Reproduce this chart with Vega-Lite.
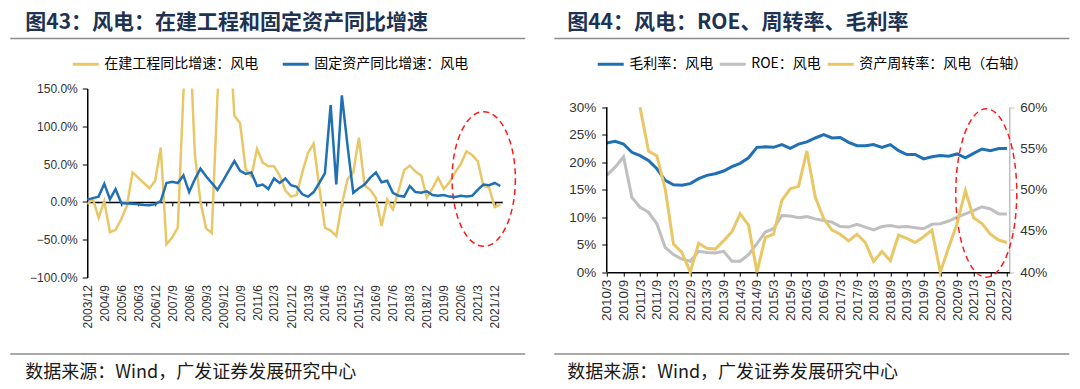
{
  "$schema": "https://vega.github.io/schema/vega-lite/v6.json",
  "background": "#ffffff",
  "padding": {"left": 9.25, "top": 11.5, "right": 0, "bottom": 0},
  "spacing": 26.5,
  "resolve": {"scale": {"color": "independent"}},
  "config": {
    "view": {"stroke": null},
    "axis": {"grid": false, "labelFont": "Liberation Sans", "labelColor": "#333333", "labelOverlap": false}
  },
  "hconcat": [
    {
      "width": 415,
      "height": 189,
      "data": {"values": [
        {"d":"2003-12-01","zj":-3,"gd":3},
        {"d":"2004-03-01","zj":4,"gd":5},
        {"d":"2004-06-01","zj":-21,"gd":7},
        {"d":"2004-09-01","zj":1,"gd":24},
        {"d":"2004-12-01","zj":-40,"gd":3.5},
        {"d":"2005-03-01","zj":-37,"gd":17},
        {"d":"2005-06-01","zj":-23,"gd":-1.5},
        {"d":"2005-09-01","zj":-5,"gd":-2},
        {"d":"2005-12-01","zj":39,"gd":-2.5},
        {"d":"2006-03-01","zj":32,"gd":-3},
        {"d":"2006-06-01","zj":25,"gd":-4},
        {"d":"2006-09-01","zj":18,"gd":-4.5},
        {"d":"2006-12-01","zj":28,"gd":-3},
        {"d":"2007-03-01","zj":72,"gd":1},
        {"d":"2007-06-01","zj":-56,"gd":25},
        {"d":"2007-09-01","zj":-47,"gd":26.5},
        {"d":"2007-12-01","zj":-34,"gd":25},
        {"d":"2008-03-01","zj":145,"gd":35},
        {"d":"2008-06-01","zj":240,"gd":13},
        {"d":"2008-09-01","zj":63,"gd":30},
        {"d":"2008-12-01","zj":0,"gd":44},
        {"d":"2009-03-01","zj":-35,"gd":34},
        {"d":"2009-06-01","zj":-41,"gd":25},
        {"d":"2009-09-01","zj":140,"gd":16},
        {"d":"2009-12-01","zj":245,"gd":28},
        {"d":"2010-03-01","zj":240,"gd":41},
        {"d":"2010-06-01","zj":114,"gd":54},
        {"d":"2010-09-01","zj":104,"gd":41},
        {"d":"2010-12-01","zj":43,"gd":37},
        {"d":"2011-03-01","zj":34,"gd":39},
        {"d":"2011-06-01","zj":70,"gd":21},
        {"d":"2011-09-01","zj":52,"gd":23},
        {"d":"2011-12-01","zj":47,"gd":17},
        {"d":"2012-03-01","zj":47,"gd":31},
        {"d":"2012-06-01","zj":35,"gd":25},
        {"d":"2012-09-01","zj":15,"gd":31},
        {"d":"2012-12-01","zj":7,"gd":22},
        {"d":"2013-03-01","zj":9,"gd":20},
        {"d":"2013-06-01","zj":39,"gd":10},
        {"d":"2013-09-01","zj":65,"gd":7},
        {"d":"2013-12-01","zj":77,"gd":13},
        {"d":"2014-03-01","zj":20,"gd":25},
        {"d":"2014-06-01","zj":-34,"gd":38},
        {"d":"2014-09-01","zj":-38,"gd":128},
        {"d":"2014-12-01","zj":-45,"gd":23},
        {"d":"2015-03-01","zj":-3,"gd":141},
        {"d":"2015-06-01","zj":30,"gd":74},
        {"d":"2015-09-01","zj":39,"gd":12},
        {"d":"2015-12-01","zj":85,"gd":18},
        {"d":"2016-03-01","zj":22,"gd":23},
        {"d":"2016-06-01","zj":16,"gd":32},
        {"d":"2016-09-01","zj":5,"gd":39},
        {"d":"2016-12-01","zj":-32,"gd":26},
        {"d":"2017-03-01","zj":3,"gd":28},
        {"d":"2017-06-01","zj":-10,"gd":12},
        {"d":"2017-09-01","zj":15,"gd":8},
        {"d":"2017-12-01","zj":42,"gd":7},
        {"d":"2018-03-01","zj":48,"gd":21},
        {"d":"2018-06-01","zj":40,"gd":13},
        {"d":"2018-09-01","zj":35,"gd":12},
        {"d":"2018-12-01","zj":6,"gd":14},
        {"d":"2019-03-01","zj":18,"gd":9},
        {"d":"2019-06-01","zj":32,"gd":8},
        {"d":"2019-09-01","zj":17,"gd":9},
        {"d":"2019-12-01","zj":26,"gd":7},
        {"d":"2020-03-01","zj":39,"gd":6.5},
        {"d":"2020-06-01","zj":50,"gd":8},
        {"d":"2020-09-01","zj":67,"gd":7},
        {"d":"2020-12-01","zj":62,"gd":8},
        {"d":"2021-03-01","zj":54,"gd":16},
        {"d":"2021-06-01","zj":21,"gd":23},
        {"d":"2021-09-01","zj":19,"gd":22},
        {"d":"2021-12-01","zj":-7,"gd":25},
        {"d":"2022-03-01","zj":-4,"gd":21}
      ]},
      "layer": [
        {
          "layer": [
            {
              "mark": {"type": "line", "clip": true, "strokeWidth": 2.5},
              "encoding": {
                "x": {"field": "d", "type": "temporal",
                  "scale": {"type": "utc", "domain": [{"year":2003,"month":12,"date":1,"utc":true},{"year":2022,"month":4,"date":1,"utc":true}]},
                  "axis": {"orient": "bottom", "tickCount": 100,
                    "values": [{"year":2003,"month":12,"utc":true},{"year":2004,"month":9,"utc":true},{"year":2005,"month":6,"utc":true},{"year":2006,"month":3,"utc":true},{"year":2006,"month":12,"utc":true},{"year":2007,"month":9,"utc":true},{"year":2008,"month":6,"utc":true},{"year":2009,"month":3,"utc":true},{"year":2009,"month":12,"utc":true},{"year":2010,"month":9,"utc":true},{"year":2011,"month":6,"utc":true},{"year":2012,"month":3,"utc":true},{"year":2012,"month":12,"utc":true},{"year":2013,"month":9,"utc":true},{"year":2014,"month":6,"utc":true},{"year":2015,"month":3,"utc":true},{"year":2015,"month":12,"utc":true},{"year":2016,"month":9,"utc":true},{"year":2017,"month":6,"utc":true},{"year":2018,"month":3,"utc":true},{"year":2018,"month":12,"utc":true},{"year":2019,"month":9,"utc":true},{"year":2020,"month":6,"utc":true},{"year":2021,"month":3,"utc":true},{"year":2021,"month":12,"utc":true}],
                    "labelExpr": "utcFormat(datum.value, '%Y/%-m')", "labelAngle": -90, "domain": false, "ticks": false, "tickSize": 0,
                    "labelPadding": 7, "labelFontSize": 12, "labelOverlap": false, "labelFlush": false, "labelBound": false, "title": null}},
                "y": {"field": "zj", "type": "quantitative", "title": null,
                  "scale": {"domain": [-100, 150], "nice": false},
                  "axis": {"orient": "left", "tickCount": 100, "values": [-100, -50, 0, 50, 100, 150], "labelExpr": "format(datum.value, '.1f') + '%'", "labelOverlap": false,
                    "domainColor": "#000000", "domainWidth": 1.5, "tickColor": "#000000", "tickSize": 5, "labelFontSize": 12, "labelPadding": 5, "title": null}},
                "color": {"datum": "在建工程同比增速：风电",
                  "scale": {"domain": ["在建工程同比增速：风电", "固定资产同比增速：风电"], "range": ["#E9C766", "#1F70B4"]},
                  "legend": {"orient": "none", "legendX": -16, "legendY": -39, "direction": "horizontal", "title": null, "padding": 0,
                    "symbolType": "stroke", "symbolSize": 676, "symbolStrokeWidth": 3, "labelOffset": 4, "columnPadding": 18,
                    "labelFont": "Noto Sans CJK SC", "labelFontSize": 14, "labelColor": "#000000", "labelLimit": 400}}
              }
            },
            {
              "data": {"values": [{}]},
              "mark": {"type": "rule", "stroke": "#8C8C8C", "strokeWidth": 1.5},
              "encoding": {
                "x": {"datum": {"year":2000,"month":7,"date":7,"utc":true}},
                "x2": {"datum": {"year":2023,"month":4,"date":7,"utc":true}},
                "y": {"datum": 216.1}
              }
            },
            {
              "data": {"values": [{}]},
              "mark": {"type": "rule", "stroke": "#8C8C8C", "strokeWidth": 1.5},
              "encoding": {
                "x": {"datum": {"year":2000,"month":7,"date":7,"utc":true}},
                "x2": {"datum": {"year":2023,"month":4,"date":7,"utc":true}},
                "y": {"datum": -201.2}
              }
            },
            {
              "data": {"values": [{}]},
              "mark": {"type": "text", "align": "left", "baseline": "middle", "font": "Noto Sans CJK SC", "fontSize": 21, "fontWeight": "bold", "color": "#1E3252"},
              "encoding": {
                "x": {"datum": {"year":2001,"month":3,"date":6,"utc":true}},
                "y": {"datum": 237.3},
                "text": {"value": "图43：风电：在建工程和固定资产同比增速"}
              }
            },
            {
              "data": {"values": [{}]},
              "mark": {"type": "text", "align": "left", "baseline": "middle", "font": "Noto Sans CJK SC", "fontSize": 18, "color": "#1a1a1a"},
              "encoding": {
                "x": {"datum": {"year":2001,"month":3,"date":6,"utc":true}},
                "y": {"datum": -225.7},
                "text": {"value": "数据来源：Wind，广发证券发展研究中心"}
              }
            },
            {
              "data": {"values": [{}]},
              "mark": {"type": "point", "shape": "M0.47,0C0.47,0.5523 0.2596,1 0,1C-0.2596,1 -0.47,0.5523 -0.47,0C-0.47,-0.5523 -0.2596,-1 0,-1C0.2596,-1 0.47,-0.5523 0.47,0Z",
                "size": 18144, "filled": false, "stroke": "#FF1A1A", "strokeWidth": 1.5, "strokeDash": [6, 4], "opacity": 1},
              "encoding": {
                "x": {"datum": {"year":2021,"month":6,"date":6,"utc":true}},
                "y": {"datum": 30.3}
              }
            }
          ]
        },
        {
          "mark": {"type": "line", "strokeWidth": 2.5},
          "encoding": {
            "x": {"field": "d", "type": "temporal",
              "axis": {"orient": "bottom", "offset": -75.6, "tickCount": 100,
                "values": [{"year":2003,"month":12,"utc":true},{"year":2004,"month":9,"utc":true},{"year":2005,"month":6,"utc":true},{"year":2006,"month":3,"utc":true},{"year":2006,"month":12,"utc":true},{"year":2007,"month":9,"utc":true},{"year":2008,"month":6,"utc":true},{"year":2009,"month":3,"utc":true},{"year":2009,"month":12,"utc":true},{"year":2010,"month":9,"utc":true},{"year":2011,"month":6,"utc":true},{"year":2012,"month":3,"utc":true},{"year":2012,"month":12,"utc":true},{"year":2013,"month":9,"utc":true},{"year":2014,"month":6,"utc":true},{"year":2015,"month":3,"utc":true},{"year":2015,"month":12,"utc":true},{"year":2016,"month":9,"utc":true},{"year":2017,"month":6,"utc":true},{"year":2018,"month":3,"utc":true},{"year":2018,"month":12,"utc":true},{"year":2019,"month":9,"utc":true},{"year":2020,"month":6,"utc":true},{"year":2021,"month":3,"utc":true},{"year":2021,"month":12,"utc":true}],
                "labels": false, "domainColor": "#000000", "domainWidth": 1.5, "tickColor": "#000000", "tickSize": 4, "tickWidth": 1, "title": null}},
            "y": {"field": "gd", "type": "quantitative", "title": null},
            "color": {"datum": "固定资产同比增速：风电"}
          }
        }
      ],
      "resolve": {"axis": {"x": "independent"}}
    },
    {
      "width": 403,
      "height": 183.7,
      "data": {"values": [
        {"d":"2010-03-01","gm":23.5,"roe":17.6},
        {"d":"2010-06-01","gm":23.8,"roe":19.1},
        {"d":"2010-09-01","gm":23.3,"roe":21.0},
        {"d":"2010-12-01","gm":21.8,"roe":13.6},
        {"d":"2011-03-01","gm":21.2,"roe":11.8,"at":60},
        {"d":"2011-06-01","gm":20.3,"roe":10.9,"at":54.7},
        {"d":"2011-09-01","gm":18.8,"roe":8.8,"at":54.1},
        {"d":"2011-12-01","gm":16.7,"roe":4.5,"at":50.1},
        {"d":"2012-03-01","gm":15.9,"roe":3.2,"at":43.4},
        {"d":"2012-06-01","gm":15.8,"roe":2.4,"at":42.4},
        {"d":"2012-09-01","gm":16.1,"roe":2.0,"at":40.0},
        {"d":"2012-12-01","gm":17.0,"roe":3.8,"at":43.5},
        {"d":"2013-03-01","gm":17.6,"roe":3.6,"at":42.9},
        {"d":"2013-06-01","gm":17.9,"roe":3.5,"at":42.8},
        {"d":"2013-09-01","gm":18.4,"roe":3.8,"at":43.8},
        {"d":"2013-12-01","gm":19.2,"roe":2.0,"at":44.9},
        {"d":"2014-03-01","gm":19.8,"roe":2.0,"at":47.1},
        {"d":"2014-06-01","gm":20.8,"roe":3.2,"at":45.7},
        {"d":"2014-09-01","gm":22.7,"roe":5.2,"at":40.0},
        {"d":"2014-12-01","gm":22.8,"roe":7.3,"at":44.2},
        {"d":"2015-03-01","gm":22.7,"roe":7.9,"at":44.6},
        {"d":"2015-06-01","gm":23.2,"roe":10.3,"at":48.7},
        {"d":"2015-09-01","gm":22.5,"roe":10.2,"at":50.1},
        {"d":"2015-12-01","gm":23.3,"roe":9.9,"at":50.4},
        {"d":"2016-03-01","gm":23.7,"roe":10.1,"at":54.7},
        {"d":"2016-06-01","gm":24.4,"roe":9.7,"at":49.1},
        {"d":"2016-09-01","gm":25.0,"roe":9.4,"at":46.5},
        {"d":"2016-12-01","gm":24.4,"roe":9.1,"at":45.1},
        {"d":"2017-03-01","gm":24.5,"roe":8.3,"at":44.6},
        {"d":"2017-06-01","gm":23.6,"roe":8.2,"at":43.8},
        {"d":"2017-09-01","gm":23.0,"roe":8.7,"at":44.6},
        {"d":"2017-12-01","gm":23.0,"roe":8.2,"at":43.6},
        {"d":"2018-03-01","gm":23.2,"roe":7.7,"at":41.3},
        {"d":"2018-06-01","gm":22.7,"roe":8.3,"at":42.5},
        {"d":"2018-09-01","gm":23.2,"roe":8.5,"at":41.4},
        {"d":"2018-12-01","gm":22.1,"roe":8.2,"at":44.5},
        {"d":"2019-03-01","gm":21.4,"roe":8.3,"at":44.1},
        {"d":"2019-06-01","gm":21.4,"roe":8.1,"at":43.6},
        {"d":"2019-09-01","gm":20.6,"roe":7.9,"at":44.3},
        {"d":"2019-12-01","gm":21.0,"roe":8.7,"at":45.1},
        {"d":"2020-03-01","gm":21.2,"roe":8.8,"at":40.0},
        {"d":"2020-06-01","gm":21.1,"roe":9.3,"at":43.0},
        {"d":"2020-09-01","gm":21.5,"roe":10.0,"at":45.9},
        {"d":"2020-12-01","gm":20.8,"roe":10.6,"at":49.9},
        {"d":"2021-03-01","gm":21.6,"roe":11.2,"at":46.6},
        {"d":"2021-06-01","gm":22.4,"roe":11.9,"at":45.9},
        {"d":"2021-09-01","gm":22.1,"roe":11.5,"at":44.6},
        {"d":"2021-12-01","gm":22.5,"roe":10.6,"at":43.9},
        {"d":"2022-03-01","gm":22.5,"roe":10.6,"at":43.6}
      ]},
      "layer": [
        {
          "layer": [
            {
              "mark": {"type": "line", "strokeWidth": 3},
              "encoding": {
                "x": {"field": "d", "type": "temporal",
                  "scale": {"type": "utc", "domain": [{"year":2010,"month":3,"date":1,"utc":true},{"year":2022,"month":4,"date":1,"utc":true}]},
                  "axis": {"orient": "bottom", "tickCount": 100,
                    "values": [{"year":2010,"month":3,"utc":true},{"year":2010,"month":9,"utc":true},{"year":2011,"month":3,"utc":true},{"year":2011,"month":9,"utc":true},{"year":2012,"month":3,"utc":true},{"year":2012,"month":9,"utc":true},{"year":2013,"month":3,"utc":true},{"year":2013,"month":9,"utc":true},{"year":2014,"month":3,"utc":true},{"year":2014,"month":9,"utc":true},{"year":2015,"month":3,"utc":true},{"year":2015,"month":9,"utc":true},{"year":2016,"month":3,"utc":true},{"year":2016,"month":9,"utc":true},{"year":2017,"month":3,"utc":true},{"year":2017,"month":9,"utc":true},{"year":2018,"month":3,"utc":true},{"year":2018,"month":9,"utc":true},{"year":2019,"month":3,"utc":true},{"year":2019,"month":9,"utc":true},{"year":2020,"month":3,"utc":true},{"year":2020,"month":9,"utc":true},{"year":2021,"month":3,"utc":true},{"year":2021,"month":9,"utc":true},{"year":2022,"month":3,"utc":true}],
                    "labelExpr": "utcFormat(datum.value, '%Y/%-m')", "labelAngle": -90,
                    "domainColor": "#000000", "domainWidth": 1.5, "tickColor": "#000000", "tickSize": 4, "labelPadding": 3,
                    "labelFontSize": 13.5, "labelOverlap": false, "labelFlush": false, "labelBound": false, "title": null}},
                "y": {"field": "gm", "type": "quantitative", "title": null,
                  "scale": {"domain": [0, 33.4], "nice": false},
                  "axis": {"orient": "left", "tickCount": 100, "values": [0, 5, 10, 15, 20, 25, 30], "labelExpr": "datum.value + '%'", "labelOverlap": false, "domain": false,
                    "tickColor": "#000000", "tickSize": 5, "labelFontSize": 13.5, "labelPadding": 6, "title": null}},
                "color": {"datum": "毛利率：风电",
                  "scale": {"domain": ["毛利率：风电", "ROE：风电", "资产周转率：风电（右轴）"], "range": ["#1F70B4", "#BFBFBF", "#E9C766"]},
                  "legend": {"orient": "none", "legendX": -10.5, "legendY": -39, "direction": "horizontal", "title": null, "padding": 0,
                    "symbolType": "stroke", "symbolSize": 676, "symbolStrokeWidth": 3, "labelOffset": 4, "columnPadding": 0,
                    "labelFont": "Noto Sans CJK SC", "labelFontSize": 14, "labelColor": "#000000", "labelLimit": 400}}
              }
            },
            {
              "mark": {"type": "line", "strokeWidth": 3},
              "encoding": {
                "x": {"field": "d", "type": "temporal"},
                "y": {"field": "roe", "type": "quantitative", "title": null},
                "color": {"datum": "ROE：风电"}
              }
            },
            {
              "data": {"values": [{}]},
              "mark": {"type": "rule", "stroke": "#000000", "strokeWidth": 1.5},
              "encoding": {
                "x": {"datum": {"year":2010,"month":3,"date":1,"utc":true}},
                "y": {"datum": 0},
                "y2": {"datum": 30}
              }
            },
            {
              "data": {"values": [{}]},
              "mark": {"type": "rule", "stroke": "#BFBFBF", "strokeWidth": 1.5},
              "encoding": {
                "x": {"datum": {"year":2022,"month":4,"date":1,"utc":true}},
                "y": {"datum": 0},
                "y2": {"datum": 30}
              }
            },
            {
              "data": {"values": [{}]},
              "mark": {"type": "rule", "stroke": "#8C8C8C", "strokeWidth": 1.5},
              "encoding": {
                "x": {"datum": {"year":2008,"month":8,"date":3,"utc":true}},
                "x2": {"datum": {"year":2024,"month":1,"date":13,"utc":true}},
                "y": {"datum": 42.49}
              }
            },
            {
              "data": {"values": [{}]},
              "mark": {"type": "rule", "stroke": "#8C8C8C", "strokeWidth": 1.5},
              "encoding": {
                "x": {"datum": {"year":2008,"month":8,"date":3,"utc":true}},
                "x2": {"datum": {"year":2024,"month":1,"date":13,"utc":true}},
                "y": {"datum": -14.87}
              }
            },
            {
              "data": {"values": [{}]},
              "mark": {"type": "text", "align": "left", "baseline": "middle", "font": "Noto Sans CJK SC", "fontSize": 21, "fontWeight": "bold", "color": "#1E3252"},
              "encoding": {
                "x": {"datum": {"year":2008,"month":12,"date":23,"utc":true}},
                "y": {"datum": 45.4},
                "text": {"value": "图44：风电：ROE、周转率、毛利率"}
              }
            },
            {
              "data": {"values": [{}]},
              "mark": {"type": "text", "align": "left", "baseline": "middle", "font": "Noto Sans CJK SC", "fontSize": 18, "color": "#1a1a1a"},
              "encoding": {
                "x": {"datum": {"year":2008,"month":12,"date":23,"utc":true}},
                "y": {"datum": -18.24},
                "text": {"value": "数据来源：Wind，广发证券发展研究中心"}
              }
            },
            {
              "data": {"values": [{}]},
              "mark": {"type": "point", "shape": "M0.3622,0C0.3622,0.5523 0.2,1 0,1C-0.2,1 -0.3622,0.5523 -0.3622,0C-0.3622,-0.5523 -0.2,-1 0,-1C0.2,-1 0.3622,-0.5523 0.3622,0Z",
                "size": 28358, "filled": false, "stroke": "#FF1A1A", "strokeWidth": 1.5, "strokeDash": [6, 4], "opacity": 1},
              "encoding": {
                "x": {"datum": {"year":2021,"month":7,"date":18,"utc":true}},
                "y": {"datum": 14.4}
              }
            }
          ]
        },
        {
          "mark": {"type": "line", "strokeWidth": 3},
          "encoding": {
            "x": {"field": "d", "type": "temporal"},
            "y": {"field": "at", "type": "quantitative", "title": null,
              "scale": {"domain": [40, 62.267], "nice": false},
              "axis": {"orient": "right", "tickCount": 100, "values": [40, 45, 50, 55, 60], "labelExpr": "datum.value + '%'", "labelOverlap": false, "domain": false,
                "tickColor": "#BFBFBF", "tickSize": 4, "labelFontSize": 13.5, "labelPadding": 6, "title": null}},
            "color": {"datum": "资产周转率：风电（右轴）"}
          }
        }
      ],
      "resolve": {"scale": {"y": "independent"}}
    }
  ]
}
